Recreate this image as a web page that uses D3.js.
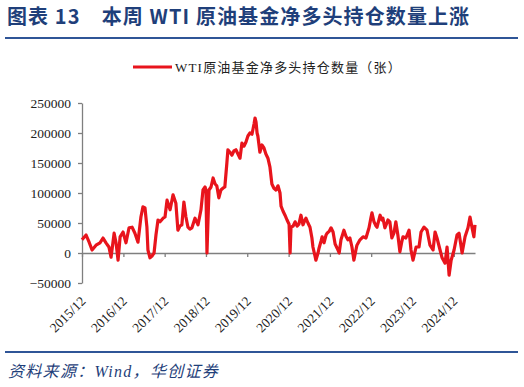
<!DOCTYPE html>
<html>
<head>
<meta charset="utf-8">
<script src="https://d3js.org/d3.v7.min.js"></script>
<style>
  body { margin: 0; background: #fff; }
  .axis text { font-family: "Liberation Serif", "Times New Roman", serif; font-size: 13.5px; fill: #222; }
  .axis path, .axis line { stroke: #7f7f7f; stroke-width: 1.3px; }
</style>
</head>
<body>
<script>

// weekly-ish readings of the series (date, contracts)
var dates = ["2015-12-01","2016-01-06","2016-02-02","2016-02-28","2016-04-03","2016-05-08","2016-06-04","2016-06-30","2016-07-26","2016-08-14",
  "2016-09-10","2016-09-27","2016-10-15","2016-11-02","2016-11-28","2016-12-24","2017-01-20","2017-02-16","2017-03-13","2017-04-09",
  "2017-05-05","2017-05-23","2017-06-10","2017-06-27","2017-07-06","2017-07-24","2017-08-11","2017-08-29","2017-09-15","2017-10-03",
  "2017-10-21","2017-11-17","2017-12-04","2017-12-22","2018-01-18","2018-02-13","2018-03-10","2018-03-28","2018-04-15","2018-05-02",
  "2018-05-20","2018-06-07","2018-06-25","2018-07-12","2018-07-30","2018-08-26","2018-09-22","2018-10-18","2018-11-05","2018-11-23",
  "2018-12-01","2018-12-10","2018-12-28","2019-01-15","2019-02-02","2019-02-20","2019-03-07","2019-03-25","2019-04-12","2019-04-30",
  "2019-05-17","2019-06-04","2019-06-13","2019-07-01","2019-07-18","2019-08-05","2019-08-23","2019-09-10","2019-09-28","2019-10-15",
  "2019-11-02","2019-11-20","2019-12-07","2019-12-25","2020-01-12","2020-01-30","2020-02-08","2020-02-17","2020-02-26","2020-03-04",
  "2020-03-22","2020-04-09","2020-04-27","2020-05-14","2020-06-01","2020-06-19","2020-07-06","2020-07-24","2020-08-11","2020-08-29",
  "2020-09-16","2020-09-25","2020-10-12","2020-10-30","2020-11-17","2020-12-05","2020-12-14","2020-12-22","2021-01-10","2021-01-27",
  "2021-02-14","2021-03-02","2021-03-20","2021-04-07","2021-04-25","2021-05-03","2021-05-21","2021-06-08","2021-06-25","2021-07-04",
  "2021-07-22","2021-07-30","2021-08-18","2021-08-27","2021-09-14","2021-09-23","2021-10-10","2021-10-28","2021-11-06","2021-11-24",
  "2021-12-11","2021-12-29","2022-01-16","2022-02-03","2022-02-21","2022-03-09","2022-04-04","2022-04-22","2022-05-09","2022-05-27",
  "2022-06-14","2022-07-01","2022-07-19","2022-07-28","2022-08-24","2022-09-20","2022-10-16","2022-11-12","2022-11-30","2022-12-08",
  "2022-12-26","2023-01-13","2023-01-22","2023-02-18","2023-03-06","2023-03-15","2023-04-01","2023-04-19","2023-04-28","2023-05-15",
  "2023-06-02","2023-06-20","2023-07-07","2023-07-25","2023-08-12","2023-08-30","2023-09-08","2023-10-04","2023-11-01","2023-11-18",
  "2023-12-06","2024-01-02","2024-01-28","2024-02-15","2024-03-12","2024-04-08","2024-05-04","2024-05-31","2024-06-18","2024-07-05",
  "2024-08-01","2024-08-19","2024-09-14","2024-10-02","2024-10-20","2024-11-07","2024-12-03","2024-12-29","2025-01-16","2025-02-12",
  "2025-03-10","2025-04-05","2025-04-23","2025-05-10","2025-05-27","2025-06-06"];

var values = [22000,30000,18000,5000,13000,17000,25000,17000,10000,-7000,
  33000,17000,-12000,27000,35000,17000,42000,43000,33000,18000,
  60000,77000,75000,43000,5000,-8000,-5000,0,30000,55000,
  52000,58000,60000,88000,72000,97000,83000,38000,45000,47000,
  85000,60000,43000,40000,42000,58000,47000,72000,105000,110000,
  105000,0,105000,110000,125000,115000,112000,92000,105000,108000,
  110000,150000,172000,168000,163000,170000,172000,165000,158000,183000,
  178000,185000,195000,200000,198000,215000,225000,218000,200000,195000,
  168000,180000,175000,165000,158000,143000,115000,108000,105000,112000,
  100000,78000,70000,63000,55000,48000,0,43000,45000,52000,
  45000,48000,63000,47000,55000,58000,50000,43000,25000,10000,
  -5000,-12000,0,8000,20000,27000,17000,30000,33000,36000,
  42000,35000,15000,8000,0,22000,38000,28000,22000,25000,
  10000,-12000,5000,13000,22000,27000,25000,42000,60000,67000,
  52000,45000,43000,63000,55000,58000,42000,50000,55000,52000,
  25000,33000,52000,30000,2000,20000,27000,25000,38000,5000,
  -12000,10000,10000,35000,43000,38000,13000,5000,35000,25000,
  5000,-8000,-17000,10000,-37000,-12000,5000,30000,33000,0,
  27000,42000,60000,43000,27000,47000];

var yTicks = [-50000, 0, 50000, 100000, 150000, 200000, 250000];
var xTickYears = [2015, 2016, 2017, 2018, 2019, 2020, 2021, 2022, 2023, 2024];

var seriesName = "WTI原油基金净多头持仓数量（张）";
var title = "图表 13　本周 WTI 原油基金净多头持仓数量上涨";
var source = "资料来源：Wind，华创证券";

var width = 524, height = 387;
var parse = d3.timeParse("%Y-%m-%d");
var data = dates.map(function(d, i) { return { date: parse(d), value: values[i] }; });

var svg = d3.select("body").append("svg")
    .attr("width", width)
    .attr("height", height);

var blue = "#1f3f7a";

// title + rules
svg.append("text")
    .attr("x", 7).attr("y", 24)
    .attr("font-family", "Noto Sans CJK SC, sans-serif")
    .attr("font-weight", "bold")
    .attr("font-size", 20)
    .attr("letter-spacing", 1.1)
    .attr("fill", blue)
    .text(title);

svg.append("line").attr("x1", 5).attr("x2", 518).attr("y1", 38).attr("y2", 38)
    .attr("stroke", "#2f5597").attr("stroke-width", 2);
svg.append("line").attr("x1", 5).attr("x2", 518).attr("y1", 352).attr("y2", 352)
    .attr("stroke", "#2f5597").attr("stroke-width", 2);

svg.append("text")
    .attr("x", 8).attr("y", 377)
    .attr("font-family", "Liberation Serif, Noto Sans CJK SC, serif")
    .attr("font-style", "italic")
    .attr("font-size", 16)
    .attr("letter-spacing", 1.3)
    .attr("fill", blue)
    .text(source);

// legend
svg.append("line").attr("x1", 133).attr("x2", 172).attr("y1", 67).attr("y2", 67)
    .attr("stroke", "#e8141c").attr("stroke-width", 3);
svg.append("text")
    .attr("x", 175).attr("y", 72)
    .attr("font-family", "Liberation Serif, Noto Sans CJK SC, serif")
    .attr("font-size", 13)
    .attr("letter-spacing", 1.2)
    .attr("fill", "#222")
    .text(seriesName);

// scales
var x = d3.scaleTime()
    .domain([parse("2015-12-01"), parse("2025-06-06")])
    .range([82, 475]);

var y = d3.scaleLinear()
    .domain([-50000, 250000])
    .range([283, 103]);

// y axis
svg.append("g")
    .attr("class", "axis")
    .attr("transform", "translate(82,0)")
    .call(d3.axisLeft(y).tickValues(yTicks).tickSize(4).tickSizeOuter(0).tickPadding(7).tickFormat(d3.format("d")));

// x axis line at zero with ticks
var xTicks = xTickYears.map(function(yr) { return new Date(yr, 11, 1); });
svg.append("g")
    .attr("class", "axis")
    .attr("transform", "translate(0," + y(0) + ")")
    .call(d3.axisBottom(x).tickValues(xTicks).tickSize(4).tickSizeOuter(0).tickFormat(""));

// x labels at the bottom, rotated
var lab = svg.append("g")
    .attr("class", "axis")
    .attr("transform", "translate(0,302)")
    .call(d3.axisBottom(x).tickValues(xTicks).tickSize(0).tickFormat(d3.timeFormat("%Y/%m")));
lab.select(".domain").remove();
lab.selectAll("text")
    .attr("x", 0).attr("y", 0).attr("dy", 0)
    .attr("text-anchor", "end")
    .attr("transform", "translate(4,0) rotate(-45)");

// series
var line = d3.line()
    .x(function(d) { return x(d.date); })
    .y(function(d) { return y(d.value); });

svg.append("path")
    .datum(data)
    .attr("fill", "none")
    .attr("stroke", "#e8141c")
    .attr("stroke-width", 3.2)
    .attr("stroke-linejoin", "round")
    .attr("d", line);

</script>
</body>
</html>
